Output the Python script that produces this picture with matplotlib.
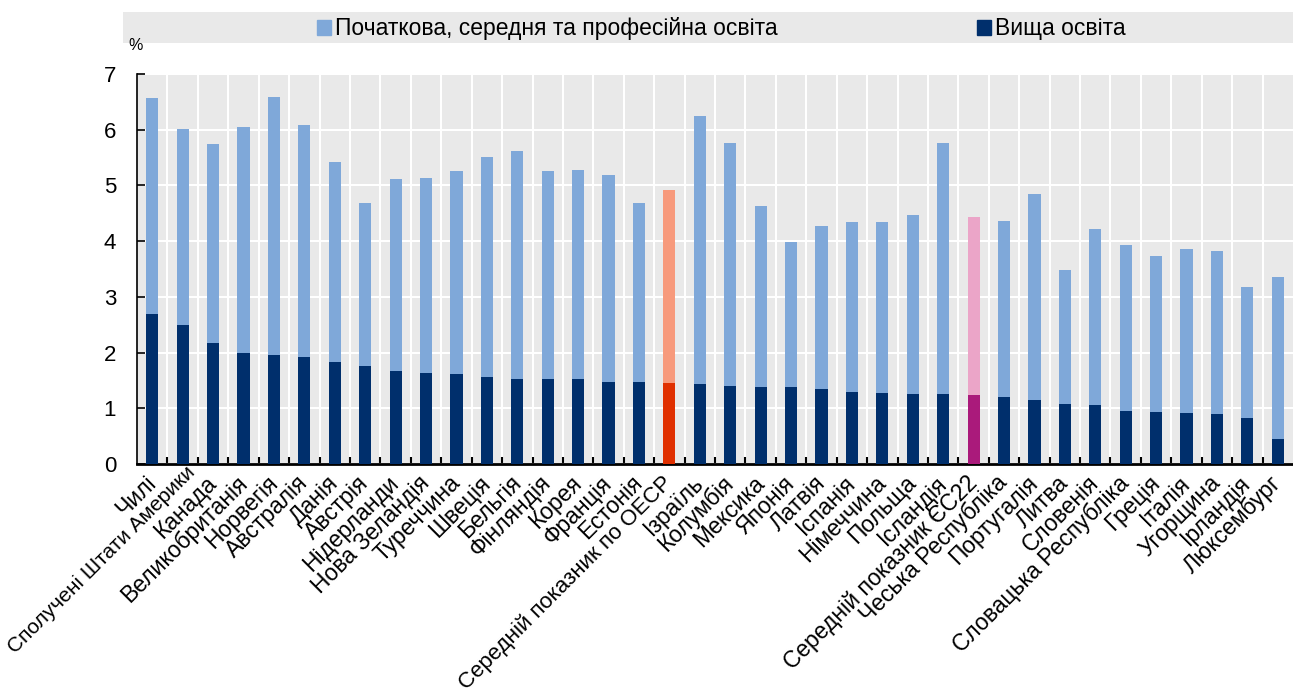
import matplotlib.pyplot as plt
import matplotlib.transforms as mtransforms
import numpy as np
from matplotlib.patches import Rectangle

plt.rcParams['font.family'] = ['Liberation Sans', 'DejaVu Sans']

countries = ["Чилі", "Сполучені Штати Америки", "Канада", "Великобританія", "Норвегія",
             "Австралія", "Данія", "Австрія", "Нідерланди", "Нова Зеландія", "Туреччина",
             "Швеція", "Бельгія", "Фінляндія", "Корея", "Франція", "Естонія",
             "Середній показник по ОЕСР", "Ізраїль", "Колумбія", "Мексика", "Японія",
             "Латвія", "Іспанія", "Німеччина", "Польща", "Ісландія",
             "Середній показник ЄС22", "Чеська Республіка", "Португалія", "Литва",
             "Словенія", "Словацька Республіка", "Греція", "Італія", "Угорщина",
             "Ірландія", "Люксембург"]

# total spending (both levels) and tertiary part, % 
total = [6.57, 6.01, 5.74, 6.05, 6.59, 6.09, 5.42, 4.69, 5.12, 5.13, 5.25,
         5.51, 5.61, 5.26, 5.28, 5.18, 4.69, 4.92, 6.25, 5.76, 4.63, 3.98,
         4.27, 4.34, 4.34, 4.46, 5.76, 4.43, 4.36, 4.85, 3.48, 4.21, 3.93,
         3.73, 3.86, 3.82, 3.18, 3.35]
tertiary = [2.69, 2.50, 2.18, 1.99, 1.95, 1.92, 1.84, 1.76, 1.68, 1.63, 1.62,
            1.56, 1.53, 1.52, 1.52, 1.48, 1.48, 1.45, 1.44, 1.41, 1.39, 1.39,
            1.35, 1.29, 1.28, 1.26, 1.26, 1.24, 1.20, 1.15, 1.08, 1.06, 0.95,
            0.93, 0.91, 0.90, 0.83, 0.45]

total = np.array(total)
tertiary = np.array(tertiary)
non_tertiary = total - tertiary

light = ['#7fa8d9'] * len(countries)
dark = ['#002f6c'] * len(countries)
i_oecd = countries.index("Середній показник по ОЕСР")
i_eu = countries.index("Середній показник ЄС22")
light[i_oecd], dark[i_oecd] = '#f79a7c', '#e03000'
light[i_eu], dark[i_eu] = '#eba5c8', '#aa1a7b'

fig = plt.figure(figsize=(12.93, 6.96), dpi=100)
ax = fig.add_axes([0.106, 0.333, 0.894, 0.561])
ax.set_facecolor('#e9e9e9')

x = np.arange(len(countries))
ax.bar(x, tertiary, width=0.4, color=dark, zorder=3)
ax.bar(x, non_tertiary, bottom=tertiary, width=0.4, color=light, zorder=3)

ax.set_xlim(-0.5, len(countries) - 0.5)
ax.set_ylim(0, 7)
ax.set_yticks(range(0, 8))
ax.tick_params(axis='y', direction='in', length=6, width=1.2, labelsize=16, pad=15)
ax.set_xticks(x)
ax.set_xticklabels(countries, rotation=45, ha='right', va='center',
                   rotation_mode='anchor', fontsize=16.5)
ax.tick_params(axis='x', which='major', length=0, pad=11)
ax.set_xticks(x[:-1] + 0.5, minor=True)
ax.tick_params(axis='x', which='minor', direction='in', length=5, width=1.5)

# the long US label sits a bit smaller and higher in the original
us = ax.get_xticklabels()[1]
us.set_fontsize(15)
us.set_transform(us.get_transform() + mtransforms.ScaledTranslation(0.1, 0.1, fig.dpi_scale_trans))
ax.get_xticklabels()[i_oecd].set_fontsize(16)

ax.grid(axis='y', color='white', linewidth=1.5, zorder=1)
ax.grid(axis='x', which='minor', color='white', linewidth=1.5, zorder=1)
ax.set_axisbelow(True)

for s in ['top', 'right']:
    ax.spines[s].set_visible(False)
ax.spines['left'].set_linewidth(1.2)
ax.spines['bottom'].set_linewidth(2)

fig.text(0.099, 0.935, '%', fontsize=11.5, ha='left', va='center')

# legend band
fig.patches.append(Rectangle((123 / 1293, 1 - 43 / 696), 1 - 123 / 1293, 31 / 696,
                             transform=fig.transFigure, facecolor='#e9e9e9',
                             edgecolor='none', zorder=0))
handles = [Rectangle((0, 0), 1, 1, color='#7fa8d9'), Rectangle((0, 0), 1, 1, color='#002f6c')]
fig.legend(handles, ["Початкова, середня та професійна освіта", "Вища освіта"],
           loc='center left', bbox_to_anchor=(0.245, 1 - 29 / 696), ncol=2,
           frameon=False, fontsize=16.5, handlelength=0.6, handleheight=0.6,
           handletextpad=0.2, columnspacing=8.7, borderpad=0, borderaxespad=0)

fig.savefig('out.png', dpi=100)
